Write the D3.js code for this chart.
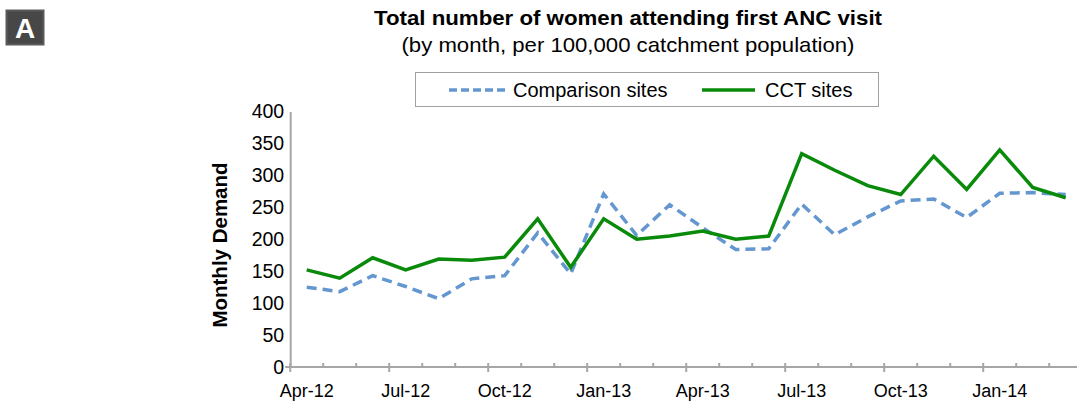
<!DOCTYPE html>
<html lang="en">
<head>
<meta charset="utf-8">
<title>First ANC visit</title>
<script src="https://d3js.org/d3.v7.min.js"></script>
<style>
  body { margin: 0; background: #fff; }
  svg { font-family: "Liberation Sans", Arial, Helvetica, sans-serif; }
</style>
</head>
<body>
<svg id="chart" width="1077" height="405"></svg>
<script>
// months on the x axis (category axis, label every 3rd)
var months = ["Apr-12","May-12","Jun-12","Jul-12","Aug-12","Sep-12","Oct-12","Nov-12","Dec-12",
              "Jan-13","Feb-13","Mar-13","Apr-13","May-13","Jun-13","Jul-13","Aug-13","Sep-13",
              "Oct-13","Nov-13","Dec-13","Jan-14","Feb-14","Mar-14"]
var comparison = [125,118,143,126,107,138,143,210,146,271,206,254,218,184,185,255,207,235,260,263,234,272,273,270]
var cct        = [152,139,171,152,169,167,172,232,156,232,200,205,213,200,205,334,308,284,270,330,278,340,281,265]
var yTicks = [0,50,100,150,200,250,300,350,400]
var seriesNames = ["Comparison sites", "CCT sites"]

var blue = "#6496cf"
var green = "#0a8a0a"
var axisGrey = "#a6a6a6"

var svg = d3.select("#chart")

var left = 290.2, bandW = 33
var x = d3.scaleBand().domain(months).range([left, left + bandW * months.length]).padding(0)
var y = d3.scaleLinear().domain([0, 400]).range([367, 111.5])

// panel letter
svg.append("rect").attr("x", 6.5).attr("y", 10.5).attr("width", 37).attr("height", 34)
  .attr("fill", "#474747").attr("stroke", "#5a5a5a").attr("stroke-width", 2)
svg.append("text").attr("x", 25).attr("y", 38).attr("text-anchor", "middle")
  .attr("fill", "#fff").attr("font-weight", "bold").attr("font-size", 28).text("A")

// title
svg.append("text").attr("x", 628).attr("y", 25).attr("text-anchor", "middle")
  .attr("font-weight", "bold").attr("font-size", 21)
  .attr("textLength", 508).attr("lengthAdjust", "spacingAndGlyphs")
  .text("Total number of women attending first ANC visit")
svg.append("text").attr("x", 628).attr("y", 52).attr("text-anchor", "middle")
  .attr("font-size", 21)
  .attr("textLength", 453).attr("lengthAdjust", "spacingAndGlyphs")
  .text("(by month, per 100,000 catchment population)")

// legend
var lg = svg.append("g")
lg.append("rect").attr("x", 415.5).attr("y", 72.5).attr("width", 463).attr("height", 34)
  .attr("fill", "#fff").attr("stroke", "#a0a0a0")
var legItems = [
  {name: seriesNames[0], color: blue, dash: "8,4", x1: 449, x2: 508, tx: 513},
  {name: seriesNames[1], color: green, dash: null, x1: 702, x2: 755, tx: 765}
]
legItems.forEach(function(d){
  lg.append("line").attr("x1", d.x1).attr("x2", d.x2).attr("y1", 90).attr("y2", 90)
    .attr("stroke", d.color).attr("stroke-width", 3.5).attr("stroke-dasharray", d.dash)
  lg.append("text").attr("x", d.tx).attr("y", 97).attr("font-size", 20).text(d.name)
})

// y axis
var yAxis = svg.append("g").attr("transform", "translate(" + left + ",0)")
  .call(d3.axisLeft(y).tickValues(yTicks).tickSize(0).tickPadding(6))
yAxis.select(".domain").attr("stroke", axisGrey).attr("stroke-width", 2)
yAxis.selectAll("text").attr("font-size", 19.5).attr("fill", "#000")
  .attr("font-family", "Liberation Sans, Arial, sans-serif")
svg.append("line").attr("x1", left - 5).attr("x2", left).attr("y1", y(0)).attr("y2", y(0))
  .attr("stroke", axisGrey).attr("stroke-width", 2)

// y axis title
svg.append("text").attr("transform", "translate(227,245) rotate(-90)")
  .attr("text-anchor", "middle").attr("font-weight", "bold").attr("font-size", 20.5)
  .text("Monthly Demand")

// x axis
var xg = svg.append("g")
xg.append("line").attr("x1", left).attr("x2", 1077).attr("y1", y(0)).attr("y2", y(0))
  .attr("stroke", axisGrey).attr("stroke-width", 2)
months.forEach(function(m, i){
  var major = i % 3 === 0
  var xx = x(m)
  xg.append("line").attr("x1", xx).attr("x2", xx)
    .attr("y1", y(0) - 4).attr("y2", major ? y(0) + 5 : y(0))
    .attr("stroke", axisGrey).attr("stroke-width", 2)
  if (major) {
    xg.append("text").attr("x", xx + bandW / 2).attr("y", 397)
      .attr("text-anchor", "middle").attr("font-size", 18).text(m)
  }
})

// lines
var line = d3.line().x(function(d, i){ return x(months[i]) + bandW / 2 }).y(function(d){ return y(d) })
svg.append("path").datum(comparison).attr("d", line).attr("fill", "none")
  .attr("stroke", blue).attr("stroke-width", 3.5).attr("stroke-dasharray", "10,6")
svg.append("path").datum(cct).attr("d", line).attr("fill", "none")
  .attr("stroke", green).attr("stroke-width", 3.5).attr("stroke-linejoin", "miter")
</script>
</body>
</html>
